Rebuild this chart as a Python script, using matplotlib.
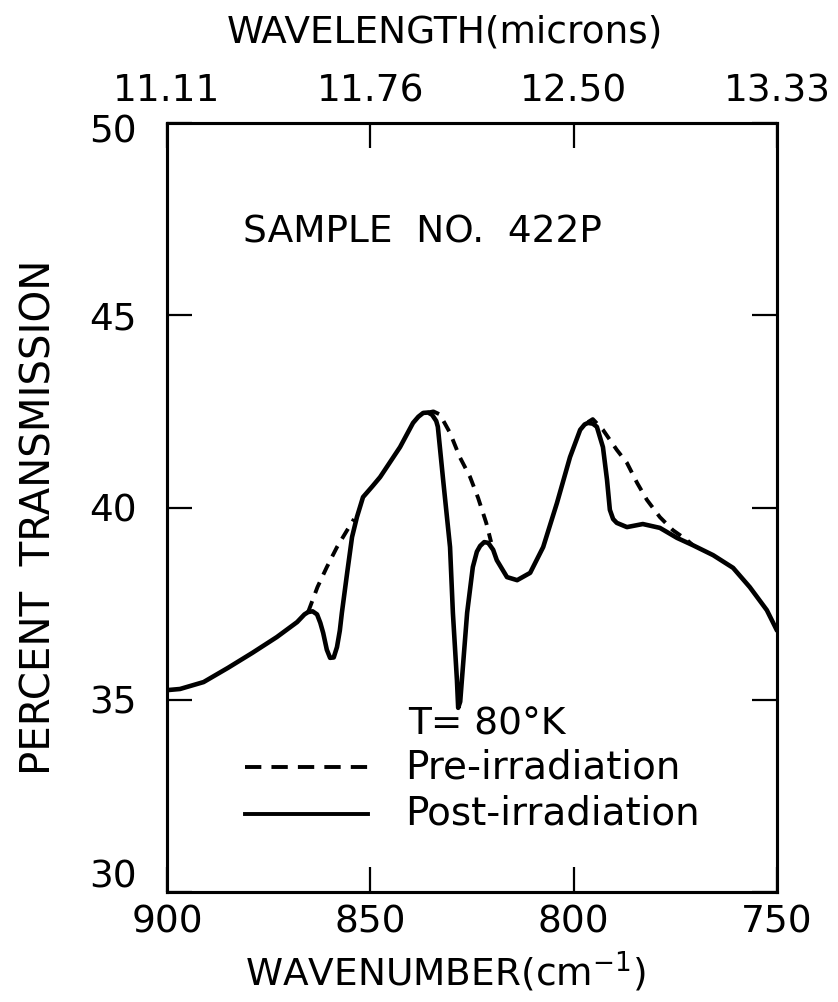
import matplotlib
matplotlib.use("Agg")
import matplotlib.pyplot as plt
import matplotlib.transforms as mtransforms

# ---- data ----
post_wn = [900, 896.8, 891, 885, 879, 873, 868, 866.2, 865.3, 864.2, 863.1, 862.3, 861.6,
           860.7, 859.9, 859.0, 858.2, 857.5, 857, 855.7, 854.5, 853.3, 851.8, 849.5,
           847.6, 842.7, 839.5, 838.2, 837, 835.8, 834.8, 833.8, 833.4, 832.1,
           830.4, 829.7, 828.7, 828.4, 827.9, 827.5, 826.2, 824.8, 823.8, 823, 822, 821,
           819.8, 818.9, 816.4, 813.9, 810.7, 807.5, 804.1, 800.9, 798.4, 797.3, 796.5,
           795.3, 794.3, 792.8, 791.8, 791.1, 790.3, 789.4, 786.9, 783, 778.8, 774.6,
           770.7, 765.7, 760.8, 756.7, 752.5, 750]
post_T = [35.25, 35.28, 35.46, 35.83, 36.22, 36.63, 37.02, 37.22, 37.28, 37.3, 37.22,
          37.0, 36.74, 36.3, 36.09, 36.1, 36.37, 36.8, 37.26, 38.30, 39.23, 39.75, 40.27,
          40.55, 40.79, 41.57, 42.2, 42.36, 42.46, 42.47, 42.41, 42.25, 42.1, 40.72,
          38.97, 37.26, 35.5, 34.79, 34.95, 35.5, 37.26, 38.45, 38.85, 39.0, 39.1, 39.08,
          38.9, 38.63, 38.19, 38.11, 38.3, 38.97, 40.12, 41.31, 42.02, 42.16, 42.2,
          42.18, 42.1, 41.57, 40.72, 39.94, 39.7, 39.6, 39.49, 39.57, 39.47, 39.21,
          39.02, 38.76, 38.43, 37.93, 37.33, 36.8]

pre1_wn = [865.3, 863, 860.7, 858.2, 855.7, 854]
pre1_T = [37.28, 37.93, 38.45, 38.97, 39.41, 39.7]
pre2_wn = [835.8, 834.5, 832.9, 830.4, 828, 825.5, 823.5, 821.5, 820.3]
pre2_T = [42.47, 42.5, 42.42, 41.94, 41.31, 40.8, 40.25, 39.6, 39.1]
pre3_wn = [796.5, 795.3, 792.8, 789.4, 786.9, 784.4, 782, 778.8, 775.6, 772.1, 770.7]
pre3_T = [42.22, 42.3, 42.02, 41.5, 41.16, 40.64, 40.2, 39.75, 39.41, 39.15, 39.02]

x_ticks = [900, 850, 800, 750]
y_ticks = [30, 35, 40, 45, 50]
wl_labels = ["11.11", "11.76", "12.50", "13.33"]

plt.rcParams['font.family'] = ['DejaVu Sans']

fig = plt.figure(figsize=(8.38, 10.02), dpi=100)
ax = fig.add_axes([167/838, 1-892/1002, 610/838, 769/1002])

for wn, T in [(pre1_wn, pre1_T), (pre2_wn, pre2_T), (pre3_wn, pre3_T)]:
    ax.plot(wn, T, color='black', lw=2.8, linestyle=(0, (3.0, 2.2)),
            dash_capstyle='butt', dash_joinstyle='round')
ax.plot(post_wn, post_T, color='black', lw=3.3, solid_joinstyle='round',
        solid_capstyle='round')

ax.set_xlim(900, 750)
ax.set_ylim(30, 50)
ax.set_xticks(x_ticks)
ax.set_yticks(y_ticks)
ax.set_xticklabels([str(v) for v in x_ticks])
ax.set_yticklabels([str(v) for v in y_ticks])
ax.tick_params(direction='in', length=18, width=1.6, labelsize=27,
               top=False, right=True, left=True, bottom=True)
ax.tick_params(axis='x', pad=9)
ax.tick_params(axis='y', pad=22)
for s in ax.spines.values():
    s.set_linewidth(2.2)

for lab in ax.get_yticklabels():
    if lab.get_text() == '30':
        lab.set_transform(lab.get_transform() +
                          mtransforms.ScaledTranslation(0, 18/100, fig.dpi_scale_trans))
    if lab.get_text() == '50':
        lab.set_transform(lab.get_transform() +
                          mtransforms.ScaledTranslation(0, -6/100, fig.dpi_scale_trans))

# top wavelength axis
top = ax.twiny()
top.set_xlim(ax.get_xlim())
top.set_xticks(x_ticks)
top.set_xticklabels(wl_labels)
top.tick_params(direction='in', length=18, width=1.6, labelsize=27, pad=10)
for s in top.spines.values():
    s.set_linewidth(2.2)

fig.text(445/838, 1-33/1002, "WAVELENGTH(microns)", ha='center', va='center', fontsize=27)
fig.text(445/838, 1-972/1002, "WAVENUMBER(cm$^{-1}$)", ha='center', va='center', fontsize=27)
fig.text(40/838, 1-517/1002, "PERCENT  TRANSMISSION", ha='center', va='center',
         rotation=90, fontsize=29)

ax.text(0.418, 0.858, "SAMPLE  NO.  422P", transform=ax.transAxes, ha='center',
        va='center', fontsize=27)
ax.text(0.395, 0.218, "T= 80°K", transform=ax.transAxes, ha='left', va='center', fontsize=27)
ax.text(0.39, 0.162, "Pre-irradiation", transform=ax.transAxes, ha='left', va='center',
        fontsize=28)
ax.text(0.39, 0.102, "Post-irradiation", transform=ax.transAxes, ha='left', va='center',
        fontsize=28)
ax.plot([0.128, 0.33], [0.162, 0.162], transform=ax.transAxes, color='black', lw=2.8,
        linestyle=(0, (4.2, 2.6)))
ax.plot([0.128, 0.33], [0.102, 0.102], transform=ax.transAxes, color='black', lw=2.8)

fig.savefig("out.png", dpi=100)
